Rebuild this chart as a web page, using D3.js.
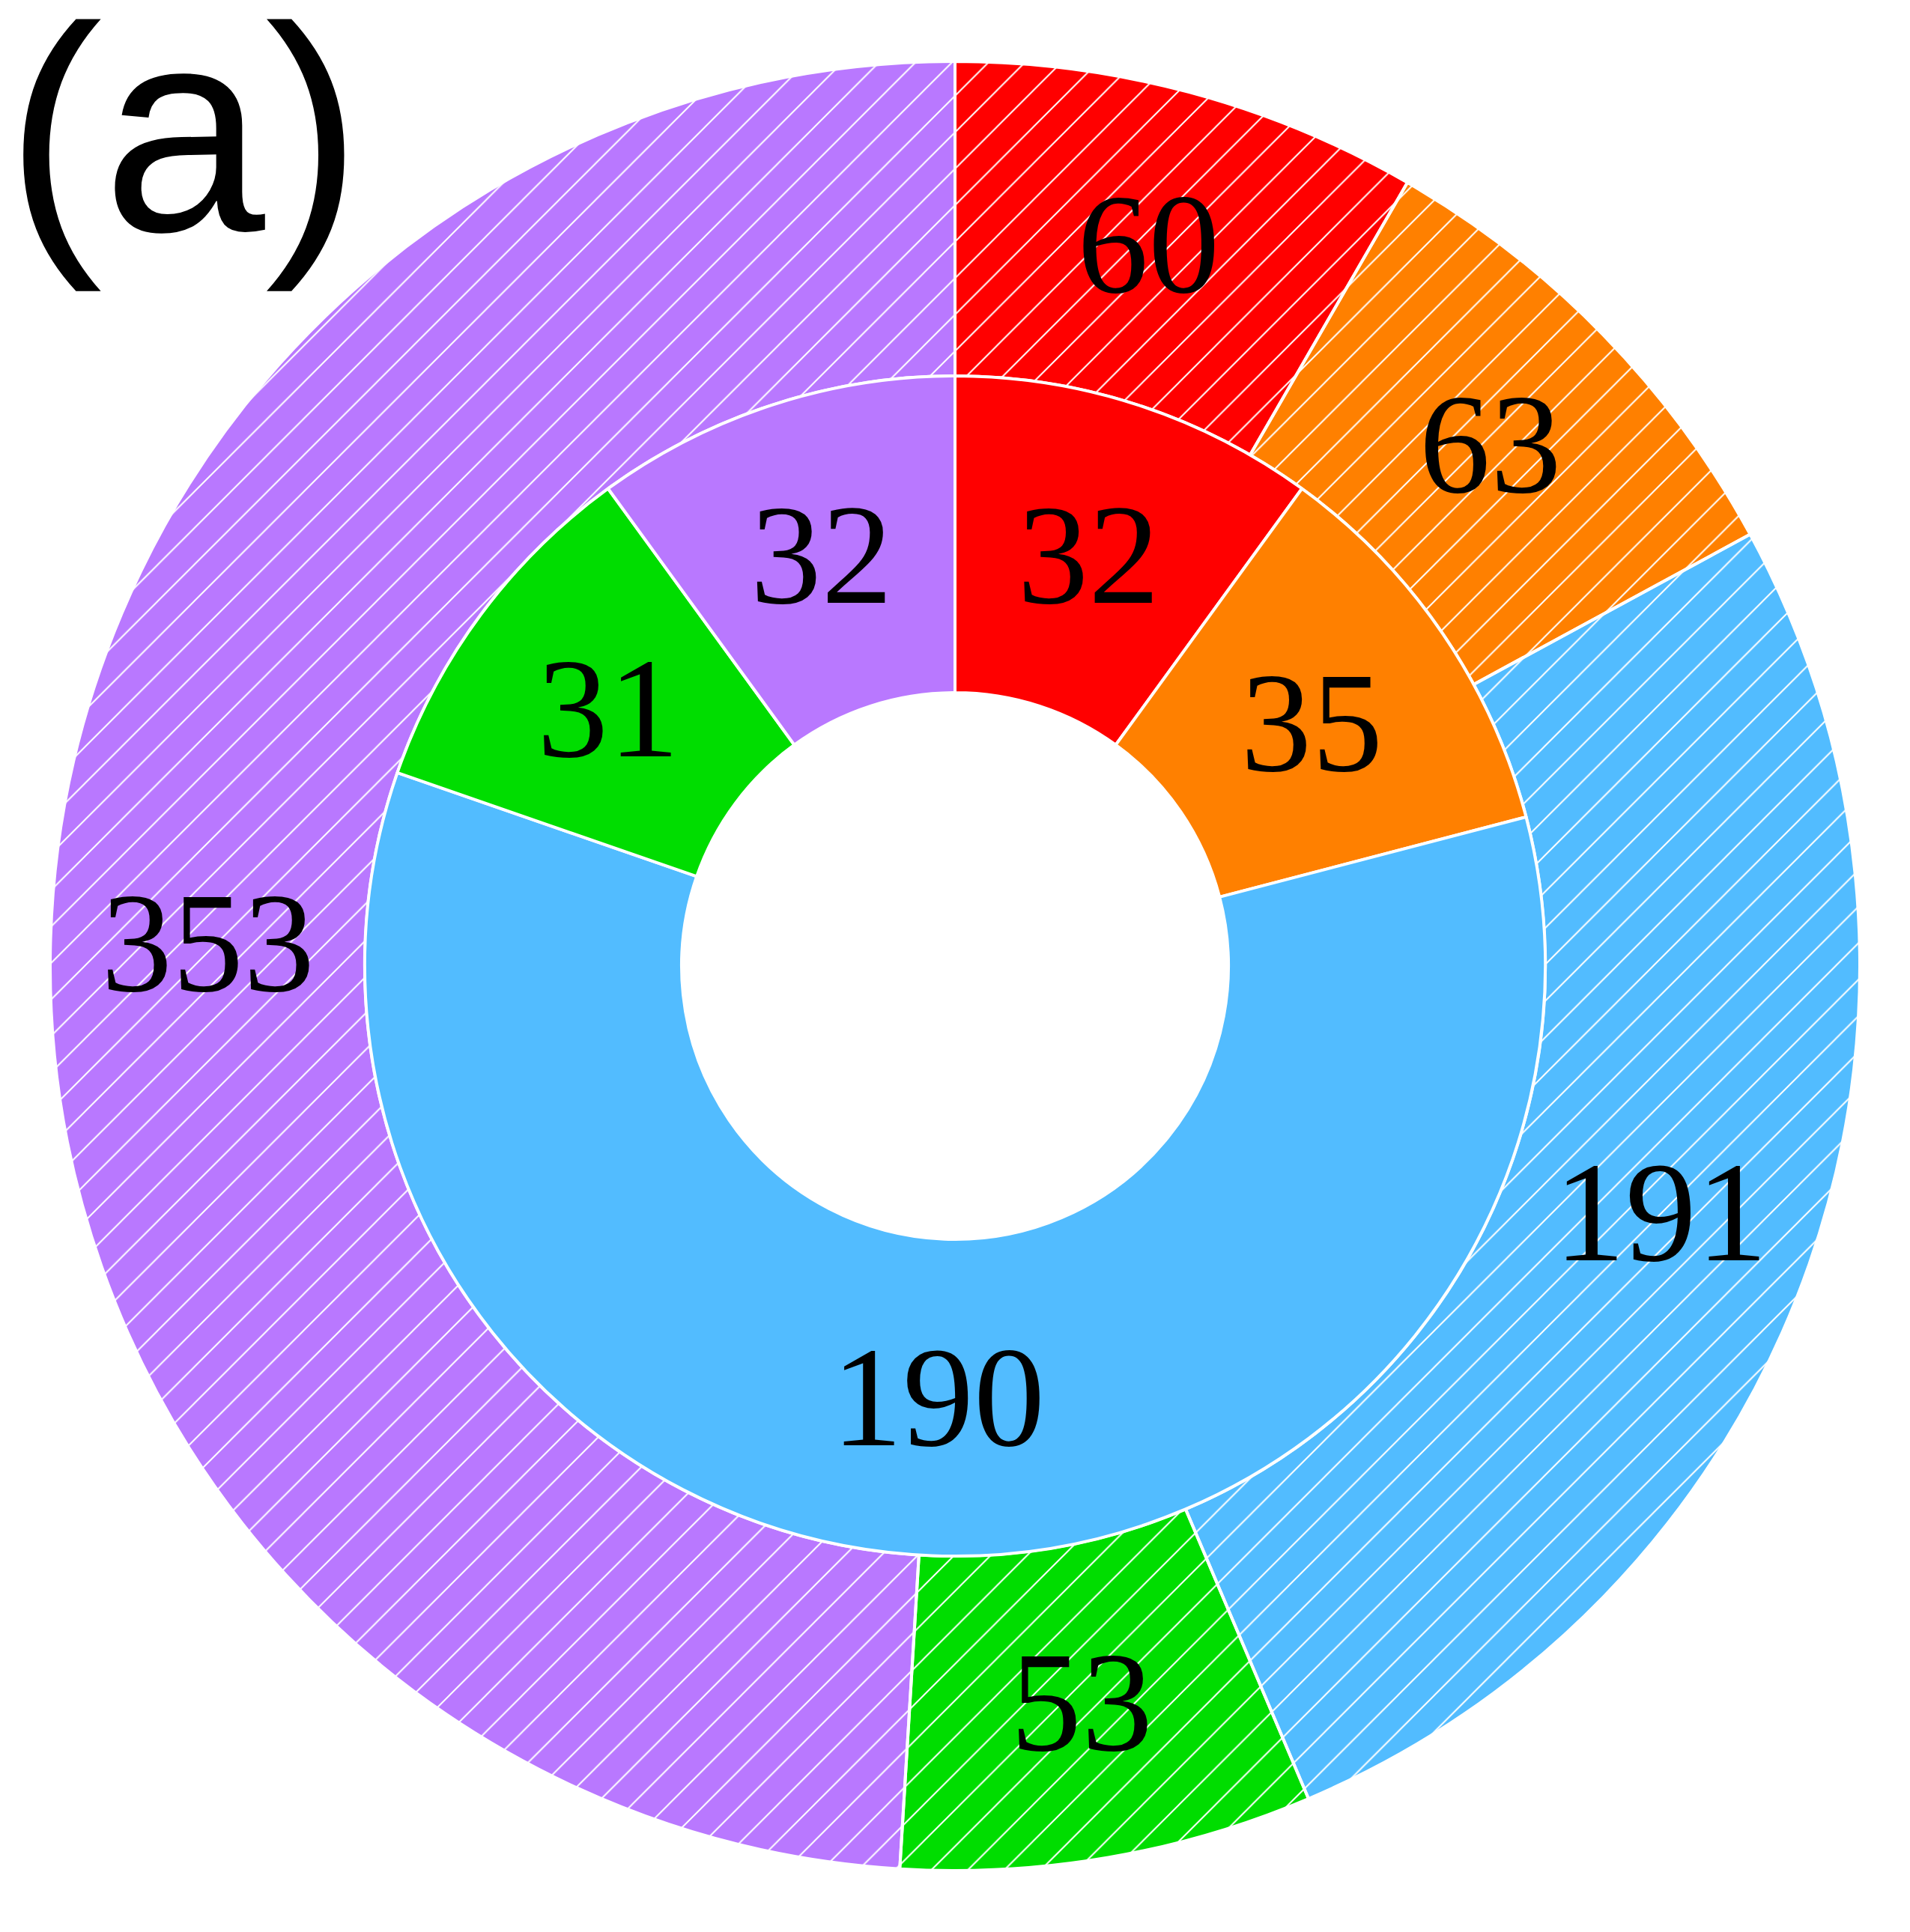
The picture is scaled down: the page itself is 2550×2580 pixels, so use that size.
<!DOCTYPE html>
<html>
<head>
<meta charset="utf-8">
<script src="https://cdn.jsdelivr.net/npm/d3@7"></script>
<style>
  html, body { margin: 0; padding: 0; background: #ffffff; }
  svg { display: block; }
</style>
</head>
<body>
<div id="chart"></div>
<script>
// ---- Data ----
const categories = ["A", "B", "C", "D", "E"];
const innerValues = [32, 35, 190, 31, 32];
const outerValues = [60, 63, 191, 53, 353];
const colors = ["#FF0000", "#FF8000", "#52BCFF", "#00DD00", "#B978FF"];
const panelLabel = "(a)";

// ---- Layout ----
const W = 2550, H = 2580;
const cx = 1275, cy = 1290;
const rHole = 365, rMid = 788, rOut = 1208;
const labelFont = 190;
const serifFont = '"Liberation Serif", "Times New Roman", Times, serif';
const sansFont = '"Liberation Sans", Arial, sans-serif';

const svg = d3.select("#chart").append("svg")
  .attr("width", W).attr("height", H)
  .attr("viewBox", `0 0 ${W} ${H}`);

svg.append("rect").attr("width", W).attr("height", H).attr("fill", "#fff");

// hatch pattern: white "/" lines (phase anchored to page coordinates)
const hs = 48.7;
const defs = svg.append("defs");
const pat = defs.append("pattern")
  .attr("id", "hatch")
  .attr("patternUnits", "userSpaceOnUse")
  .attr("width", hs).attr("height", hs)
  .attr("patternTransform", `translate(${39.4 - cx - cy},0)`);
pat.append("path")
  .attr("d", `M${-hs/2},${hs/2} L${hs/2},${-hs/2} M0,${hs} L${hs},0 M${hs/2},${hs*1.5} L${hs*1.5},${hs/2}`)
  .attr("stroke", "#fff").attr("stroke-width", 2).attr("fill", "none");

const pie = d3.pie().sort(null).value(d => d.value);

const g = svg.append("g").attr("transform", `translate(${cx},${cy})`);

const innerData = pie(categories.map((c, i) => ({ cat: c, value: innerValues[i], color: colors[i] })));
const outerData = pie(categories.map((c, i) => ({ cat: c, value: outerValues[i], color: colors[i] })));

const innerArc = d3.arc().innerRadius(rHole).outerRadius(rMid);
const outerArc = d3.arc().innerRadius(rMid).outerRadius(rOut);

// outer ring (hatched)
const og = g.append("g");
og.selectAll("path.fill").data(outerData).join("path")
  .attr("class", "fill")
  .attr("d", outerArc)
  .attr("fill", d => d.data.color);
og.selectAll("path.hatch").data(outerData).join("path")
  .attr("class", "hatch")
  .attr("d", outerArc)
  .attr("fill", "url(#hatch)");
og.selectAll("path.edge").data(outerData).join("path")
  .attr("class", "edge")
  .attr("d", outerArc)
  .attr("fill", "none")
  .attr("stroke", "#fff")
  .attr("stroke-width", 4)
  .attr("stroke-linejoin", "round");

// inner ring (solid)
const ig = g.append("g");
ig.selectAll("path").data(innerData).join("path")
  .attr("d", innerArc)
  .attr("fill", d => d.data.color)
  .attr("stroke", "#fff")
  .attr("stroke-width", 4)
  .attr("stroke-linejoin", "round");

// labels
function addLabels(data, arc) {
  g.append("g").selectAll("text").data(data).join("text")
    .attr("x", d => arc.centroid(d)[0])
    .attr("y", d => arc.centroid(d)[1] + labelFont * 0.335)
    .attr("text-anchor", "middle")
    .style("font-family", serifFont)
    .style("font-size", labelFont + "px")
    .attr("fill", "#000")
    .text(d => d.data.value);
}
addLabels(outerData, outerArc);
addLabels(innerData, innerArc);

// panel label
svg.append("text")
  .attr("x", 7)
  .attr("y", 308)
  .style("font-family", sansFont)
  .style("font-size", "390px")
  .attr("fill", "#000")
  .text(panelLabel);
</script>
</body>
</html>
